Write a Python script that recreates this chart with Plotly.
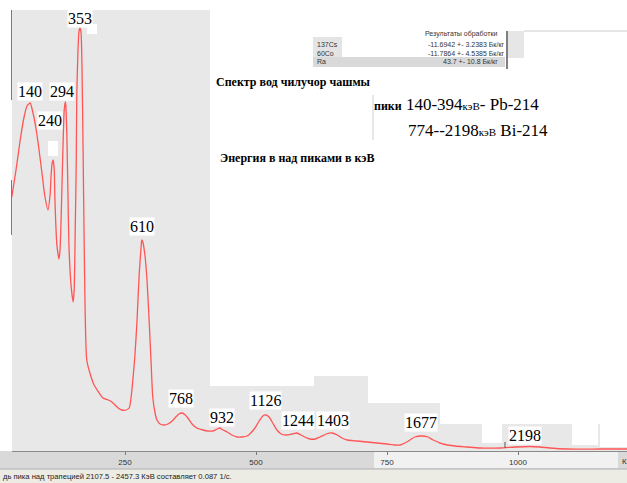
import numpy as np
import plotly.graph_objects as go

# Gamma spectrum (channel number vs. counts)
channels = [34, 42, 50, 57, 63, 69, 74, 80, 86, 92, 97, 103, 107, 109, 111, 113, 115, 116,
            118, 120, 124, 126, 128, 130, 132, 134, 136, 137, 139, 141, 143, 147, 151, 153,
            155, 157, 158, 160, 162, 164, 166, 168, 170, 172, 174, 177, 183, 191, 197, 208,
            218, 225, 237, 244, 252, 258, 261, 265, 269, 273, 277, 281, 282, 284, 288, 292,
            296, 300, 303, 307, 311, 317, 324, 332, 340, 347, 353, 359, 365, 370, 378, 387,
            399, 408, 418, 426, 431, 437, 445, 454, 464, 473, 483, 490, 498, 506, 513, 519,
            525, 532, 540, 548, 557, 569, 578, 586, 593, 603, 613, 622, 634, 645, 655, 664,
            674, 693, 712, 731, 750, 765, 775, 784, 794, 803, 817, 828, 838, 847, 857, 880,
            903, 927, 966, 994, 1023, 1042, 1061, 1093, 1156, 1208]
counts = [5080, 5620, 6220, 6660, 6900, 6960, 6780, 6460, 6020, 5520, 5100, 4820, 5120, 5520,
          5760, 5820, 5620, 5120, 4520, 4120, 3840, 4020, 4620, 5420, 6220, 6820, 6980, 6920,
          6320, 5220, 4120, 3320, 2980, 3220, 4420, 5820, 7120, 7920, 8380, 8460, 8380, 7620,
          6020, 4220, 2760, 1820, 1560, 1320, 1220, 1060, 1020, 980, 860, 820, 820, 860, 1020,
          1420, 1920, 2620, 3520, 4120, 4220, 4180, 3920, 3420, 2620, 1720, 1080, 780, 620,
          540, 520, 540, 600, 680, 740, 760, 720, 660, 540, 460, 420, 400, 400, 440, 460, 420,
          380, 320, 280, 280, 300, 360, 460, 600, 700, 720, 680, 560, 420, 340, 320, 340, 360,
          320, 280, 240, 240, 280, 340, 360, 320, 260, 220, 200, 180, 160, 140, 120, 120, 160,
          220, 280, 300, 280, 220, 180, 140, 100, 80, 60, 60, 80, 90, 80, 60, 40, 40, 40]

# Peak energies (keV) and the channels where those peaks sit
peak_energy = ["140", "240", "294", "353", "610", "768", "932", "1126", "1244", "1403", "1677", "2198"]
peak_channel = [69, 113, 136, 164, 282, 359, 431, 519, 578, 645, 817, 1023]

tick_vals = [250, 500, 750, 1000]
tick_text = ["250", "500", "750", "1000"]

W, H = 627, 483
L, T, R, B = 12, 10, 627, 451  # plot area in pixels


def px(x):
    return (x - L) / (R - L)


def py(y):
    return (B - y) / (B - T)


fig = go.Figure()
fig.add_trace(go.Scatter(
    x=channels, y=counts, mode="lines",
    line=dict(color="rgb(255,85,85)", width=1.3, shape="spline", smoothing=0.6),
    hoverinfo="skip", showlegend=False,
))

shapes = []


def rect(x0, y0, x1, y1, color, layer="below"):
    shapes.append(dict(type="rect", xref="paper", yref="paper",
                       x0=px(x0), x1=px(x1), y0=py(y1), y1=py(y0),
                       fillcolor=color, line=dict(width=0), layer=layer))


def vline(x, y0, y1, color, width=1, layer="above"):
    shapes.append(dict(type="line", xref="paper", yref="paper",
                       x0=px(x), x1=px(x), y0=py(y1), y1=py(y0),
                       line=dict(color=color, width=width), layer=layer))


# white areas covering the right part of the plotting field
rect(210, 0, 314, 386, "white")
rect(314, 0, 368, 376, "white")
rect(368, 0, 440, 403, "white")
rect(440, 0, 628, 424, "white")
rect(482, 420, 502, 443, "white")
rect(572, 420, 598, 445, "white")
rect(600, 420, 628, 447, "white")

# axis strip and status bar
rect(0, 451, 628, 469, "#d9d9d9")
rect(374, 452, 618, 468, "#f1f1f1")
rect(0, 469, 628, 484, "#edece4")
shapes.append(dict(type="line", xref="paper", yref="paper", x0=px(0), x1=px(627),
                   y0=py(469), y1=py(469), line=dict(color="#b0b0b0", width=1)))

# left axis fragments
vline(11.5, 10, 100, "#7a7a7a")
vline(11.5, 180, 235, "#7a7a7a")

# results table
rect(313, 37, 342, 57, "#e4e4e4")
rect(313, 57, 505, 67, "#d9d9d9")
rect(508, 31, 524, 58, "#e6e6e6")
vline(507, 31, 69, "#555555", width=1.5)
shapes.append(dict(type="line", xref="paper", yref="paper", x0=px(524), x1=px(627),
                   y0=py(31), y1=py(31), line=dict(color="#cccccc", width=1)))

# text box border
vline(373, 95, 140, "#cfcfcf")

# small leftovers near the peaks
rect(87, 24, 97, 34, "white", layer="above")
rect(48, 141, 58, 156, "white", layer="above")
vline(505, 442, 448, "#555555")

annotations = []

# peak labels, placed above each peak of the curve
offsets = {"140": (0, 2), "240": (-3, 30), "294": (-3, 1), "353": (0, 0), "610": (0, 4),
           "768": (-1, 5), "932": (2, 1), "1126": (0, 5), "1244": (1, 3), "1403": (1, 3),
           "1677": (-1, 4), "2198": (-5, 2)}
for e, ch in zip(peak_energy, peak_channel):
    yv = float(np.interp(ch, channels, counts))
    dx, dy = offsets[e]
    annotations.append(dict(
        x=ch, y=yv, xref="x", yref="y", text=e, showarrow=False,
        xanchor="center", yanchor="bottom", xshift=dx, yshift=dy,
        font=dict(family="Liberation Serif", size=16, color="black"),
        bgcolor="white", borderpad=0,
    ))


def label(x, y, text, size, anchor="left", family="Liberation Serif", color="black"):
    annotations.append(dict(
        x=px(x), y=py(y), xref="paper", yref="paper", text=text, showarrow=False,
        xanchor=anchor, yanchor="middle", font=dict(family=family, size=size, color=color),
    ))


label(214, 82, "<b>Спектр вод чилучор чашмы</b>", 12)
label(372, 104, "<b><span style='font-size:12px'>пики</span></b> 140-394"
                "<span style='font-size:11px'>кэВ</span>- Pb-214", 17)
label(406, 130, "774--2198<span style='font-size:11px'>кэВ</span> Bi-214", 17)
label(218, 158, "<b>Энергия в над пиками в кэВ</b>", 12)

# table text
tf = "Liberation Sans"
label(500, 34, "Результаты обработки", 7, anchor="right", family=tf, color="#333")
label(315, 44, "137Cs", 7, family=tf, color="#333")
label(315, 53, "60Co", 7, family=tf, color="#333")
label(315, 62, "Ra", 7, family=tf, color="#333")
label(506, 44, "-11.6942 +- 3.2383 Бк/кг", 7, anchor="right", family=tf, color="#333")
label(506, 53, "-11.7864 +- 4.5385 Бк/кг", 7, anchor="right", family=tf, color="#333")
label(500, 62, "43.7 +- 10.8 Бк/кг", 7, anchor="right", family=tf, color="#333")

# status bar text
label(1, 477, "дь пика над трапецией 2107.5 - 2457.3 КэВ составляет 0.087 1/с.", 7.6,
      family=tf, color="#222")
label(620, 461, "К", 8, family=tf, color="#333")

fig.update_layout(
    width=W, height=H,
    margin=dict(l=L, r=W - R, t=T, b=H - B),
    paper_bgcolor="white",
    plot_bgcolor="#e8e8e8",
    shapes=shapes,
    annotations=annotations,
    showlegend=False,
    xaxis=dict(range=[34.35, 1208], tickvals=tick_vals, ticktext=tick_text,
               showgrid=False, zeroline=False, showline=True, linecolor="#8a8a8a",
               ticks="outside", ticklen=3, tickcolor="#777",
               tickfont=dict(family="Liberation Sans", size=8, color="#333")),
    yaxis=dict(range=[0, 8820], visible=False, showgrid=False, zeroline=False),
)

fig.write_html("out.html")
